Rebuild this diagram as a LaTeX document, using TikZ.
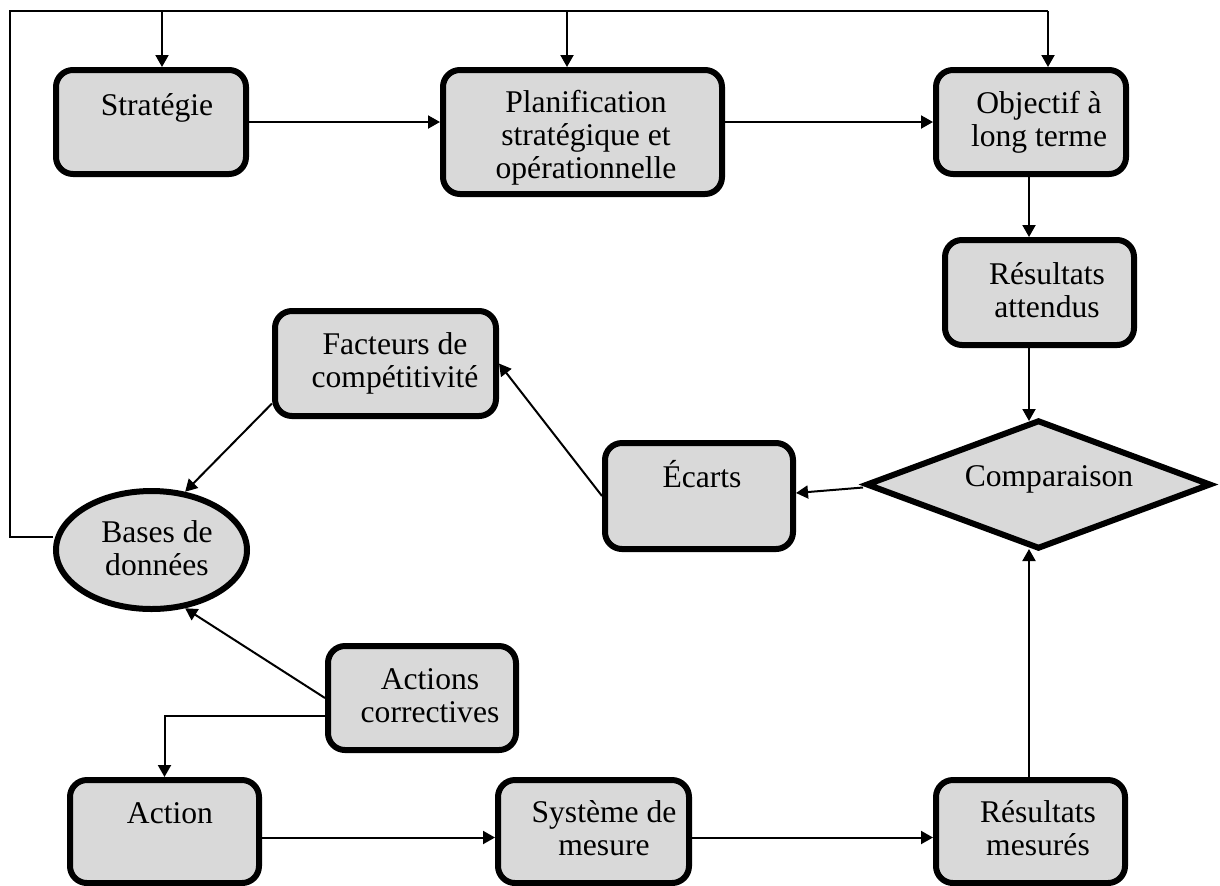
\documentclass[tikz,border=0pt]{standalone}
\usepackage{fontspec}
\setmainfont{Liberation Serif}
\usetikzlibrary{arrows.meta,shapes.geometric,calc,backgrounds}
\definecolor{boxgray}{RGB}{217,217,217}
\begin{document}
\begin{tikzpicture}[x=0.5pt,y=-0.5pt,
  box/.style={draw=black, fill=boxgray, line width=3pt, rounded corners=8.5pt, inner sep=0pt},
  ell/.style={draw=black, fill=boxgray, line width=3pt, ellipse, inner sep=0pt},
  dia/.style={draw=black, fill=boxgray, line width=3pt, diamond, inner sep=0pt},
  txt/.style={inner sep=0pt, align=center, font=\fontsize{15.8}{16.4}\selectfont, anchor=base},
  conn/.style={line width=1pt, draw=black},
  arr/.style={conn, -{Triangle[length=6pt,width=6.5pt]}}]
\useasboundingbox (0,0) rectangle (1220,885);
\clip (0,0) rectangle (1220,885);

% nodes (text nodes anchored at the baseline of their last line)
\node[box, minimum width=95pt, minimum height=52pt] (strat) at (151,122) {};
\node[txt] (tstrat) at (157,115) {Stratégie};
\node[box, minimum width=139.5pt, minimum height=62pt] (plan) at (582.5,132) {};
\node[txt] (tplan) at (586,178) {Planification\\stratégique et\\opérationnelle};
\node[box, minimum width=95pt, minimum height=52pt] (obj) at (1031,122) {};
\node[txt] (tobj) at (1039,146) {Objectif à\\long terme};
\node[box, minimum width=94.5pt, minimum height=52.5pt] (resatt) at (1039.5,292.5) {};
\node[txt] (tresatt) at (1047,317) {Résultats\\attendus};
\node[dia, minimum width=172.5pt, minimum height=64.5pt] (cmp) at (1038.5,484.5) {};
\node[txt] (tcmp) at (1049,486) {Comparaison};
\node[box, minimum width=94pt, minimum height=53pt] (ecarts) at (699,496) {};
\node[txt] (tecarts) at (702,487) {Écarts};
\node[box, minimum width=110.5pt, minimum height=52.5pt] (fact) at (385.5,363.5) {};
\node[txt] (tfact) at (395,387) {Facteurs de\\compétitivité};
\node[ell, minimum width=95.5pt, minimum height=59pt] (bases) at (151.5,550) {};
\node[txt] (tbases) at (157,575) {Bases de\\données};
\node[box, minimum width=94pt, minimum height=52pt] (actcor) at (422,698) {};
\node[txt] (tactcor) at (430,722) {Actions\\correctives};
\node[box, minimum width=94.5pt, minimum height=51.5pt] (action) at (164.5,831.5) {};
\node[txt] (taction) at (170,823) {Action};
\node[box, minimum width=95.5pt, minimum height=51.5pt] (sys) at (593.5,831.5) {};
\node[txt] (tsys) at (604,855) {Système de\\mesure};
\node[box, minimum width=94.5pt, minimum height=51.5pt] (resmes) at (1030.5,831.5) {};
\node[txt] (tresmes) at (1038,855) {Résultats\\mesurés};

% connectors
\begin{scope}[on background layer]
\coordinate (loopA) at (10,537);
\coordinate (loopB) at (10,11);
\coordinate (loopC) at (1048,11);
\coordinate (brS) at (162,11);
\coordinate (brP) at (567,11);
\coordinate (xV) at (1029,0);
\coordinate (cmpT) at ($(cmp.north -| xV)+(0,4)$);
\coordinate (cmpB) at ($(cmp.south -| xV)+(0,-3)$);
\coordinate (cmpW) at ($(cmp.west)+(0,3)$);
\coordinate (ecE) at ($(ecarts.east)+(0,-3)$);
\coordinate (factL) at ($(fact.west)+(0,40)$);
\coordinate (acL) at ($(actcor.west)+(0,18)$);
\coordinate (actE) at ($(action.east)+(0,6)$);
\coordinate (sysE) at ($(sys.east)+(0,6)$);
\draw[conn] (loopA -| bases.west) -- (loopA) -- (loopB) -- (loopC);
\draw[arr] (loopC) -- (loopC |- obj.north);
\draw[arr] (brS) -- (brS |- strat.north);
\draw[arr] (brP) -- (brP |- plan.north);
\draw[arr] (strat.east) -- (strat.east -| plan.west);
\draw[arr] (obj.west -| plan.east) -- (obj.west);
\draw[arr] (obj.south -| xV) -- (resatt.north -| xV);
\draw[arr] (resatt.south -| xV) -- (cmpT);
\draw[arr] (resmes.north -| xV) -- (cmpB);
\draw[arr] (cmpW) -- (ecE);
\draw[arr] (ecarts.west) -- (fact.east);
\draw[arr] (factL) -- (bases.60);
\draw[arr] (actcor.west) -- (bases.-60);
\draw[arr] (acL) -| (action.north);
\draw[arr] (actE) -- (actE -| sys.west);
\draw[arr] (sysE) -- (sysE -| resmes.west);
\end{scope}
\end{tikzpicture}
\end{document}
